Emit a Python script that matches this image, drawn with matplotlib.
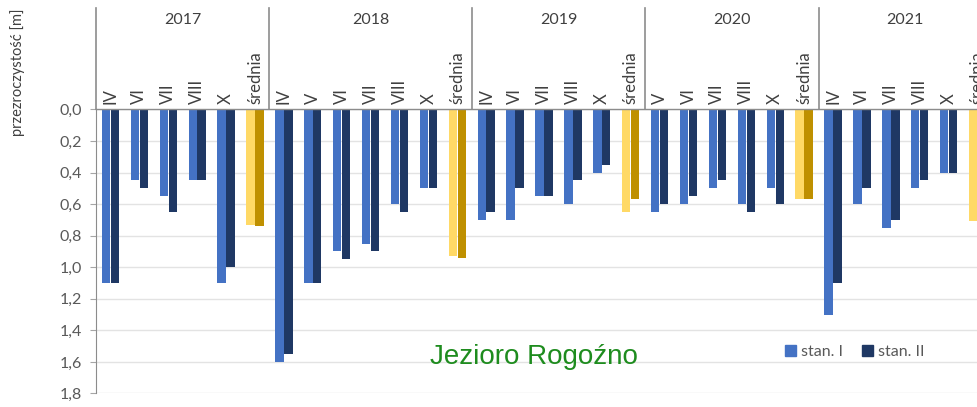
import matplotlib
matplotlib.use("Agg")
import matplotlib.pyplot as plt
import numpy as np

years = ['2017', '2018', '2019', '2020', '2021']
months = [
    ['IV', 'VI', 'VII', 'VIII', 'X', 'średnia'],
    ['IV', 'V', 'VI', 'VII', 'VIII', 'X', 'średnia'],
    ['IV', 'VI', 'VII', 'VIII', 'X', 'średnia'],
    ['V', 'VI', 'VII', 'VIII', 'X', 'średnia'],
    ['IV', 'VI', 'VII', 'VIII', 'X', 'średnia'],
]
stan1 = [
    [1.10, 0.45, 0.55, 0.45, 1.10, 0.73],
    [1.60, 1.10, 0.90, 0.85, 0.60, 0.50, 0.93],
    [0.70, 0.70, 0.55, 0.60, 0.40, 0.65],
    [0.65, 0.60, 0.50, 0.60, 0.50, 0.57],
    [1.30, 0.60, 0.75, 0.50, 0.40, 0.71],
]
stan2 = [
    [1.10, 0.50, 0.65, 0.45, 1.00, 0.74],
    [1.55, 1.10, 0.95, 0.90, 0.65, 0.50, 0.94],
    [0.65, 0.50, 0.55, 0.45, 0.35, 0.57],
    [0.60, 0.55, 0.45, 0.65, 0.60, 0.57],
    [1.10, 0.50, 0.70, 0.45, 0.40, 0.63],
]
yticks = [0.0, 0.2, 0.4, 0.6, 0.8, 1.0, 1.2, 1.4, 1.6, 1.8]

C1, C2 = '#4472C4', '#1F3864'
Y1, Y2 = '#FFD966', '#BF9000'
GRAY = '#595959'
FONT = ['Lato', 'DejaVu Sans']

cats = [m for ms in months for m in ms]
v1 = [v for vs in stan1 for v in vs]
v2 = [v for vs in stan2 for v in vs]
x = np.arange(len(cats))
col1 = [Y1 if c == 'średnia' else C1 for c in cats]
col2 = [Y2 if c == 'średnia' else C2 for c in cats]

fig = plt.figure(figsize=(9.78, 4.07), dpi=100)
ax = fig.add_axes([0.0982, 0.0332, 0.9161, 0.698])

w = 0.29
off = 0.155
b1 = ax.bar(x - off, v1, w, color=col1, label='stan. I', zorder=3)
b2 = ax.bar(x + off, v2, w, color=col2, label='stan. II', zorder=3)

ax.set_xlim(-0.5, len(cats) - 0.5)
ax.set_ylim(1.8, 0.0)
ax.set_yticks(yticks)
ax.set_yticklabels([f'{t:.1f}'.replace('.', ',') for t in yticks],
                   fontsize=11.5, color=GRAY, family=FONT)
ax.tick_params(axis='y', length=4, color='#a6a6a6', pad=6)
ax.set_xticks([])
ax.yaxis.grid(True, color='#e3e3e3', lw=1, zorder=0)
for s in ['top', 'right', 'bottom']:
    ax.spines[s].set_visible(False)
ax.spines['left'].set_color('#8c8c8c')
ax.axhline(0, color='#8c8c8c', lw=1, zorder=4, clip_on=False)

# header: separators, years, month labels
trans = ax.get_xaxis_transform()
start = 0
seps = [-0.5]
for yr, ms in zip(years, months):
    n = len(ms)
    center = start + (n - 1) / 2
    ax.text(center, 1.315, yr, transform=trans, ha='center', va='center',
            fontsize=11.5, color='#404040', family=FONT, clip_on=False)
    start += n
    seps.append(start - 0.5)
for s in seps:
    ax.plot([s, s], [1.0, 1.357], transform=trans, color='#8c8c8c', lw=1.2,
            clip_on=False)
for xi, c in zip(x, cats):
    ax.text(xi, 1.02, c, transform=trans, rotation=90, ha='center', va='bottom',
            fontsize=12, color='#404040', family=FONT, clip_on=False)

fig.text(0.018, 0.823, 'przezroczystość [m]', rotation=90, ha='center', va='center',
         fontsize=10.5, color='#404040', family=FONT)

fig.text(0.546, 0.123, 'Jezioro Rogoźno', ha='center', va='center', fontsize=20,
         color='#1E8C1E', family=['Liberation Sans', 'DejaVu Sans'])

leg = fig.legend(handles=[b1, b2], labels=['stan. I', 'stan. II'], loc='center',
                 bbox_to_anchor=(0.874, 0.135), ncol=2, frameon=False,
                 handlelength=0.7, handleheight=0.7, handletextpad=0.3,
                 columnspacing=1.2, prop={'family': FONT, 'size': 11.5})
for t in leg.get_texts():
    t.set_color(GRAY)
for h, c in zip(leg.legend_handles, [C1, C2]):
    h.set_color(c)

fig.savefig('out.png', dpi=100)
